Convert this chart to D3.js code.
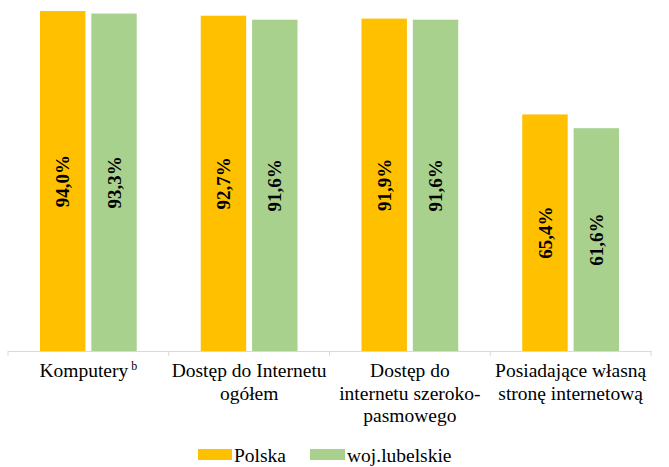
<!DOCTYPE html>
<html>
<head>
<meta charset="utf-8">
<script src="https://cdn.jsdelivr.net/npm/d3@7"></script>
<style>
  body { margin: 0; background: #fff; }
</style>
</head>
<body>
<svg id="chart" width="669" height="467"></svg>
<script>
var categories = [
  ["Komputery"],
  ["Dostęp do Internetu", "ogółem"],
  ["Dostęp do", "internetu szeroko-", "pasmowego"],
  ["Posiadające własną", "stronę internetową"]
];
var seriesNames = ["Polska", "woj.lubelskie"];
var polska = [94.0, 92.7, 91.9, 65.4];
var lubelskie = [93.3, 91.6, 91.6, 61.6];
var colors = ["#FFC000", "#A9D18E"];

var FONT = "Liberation Serif";

var svg = d3.select('#chart');
var left = 8, right = 651, baseY = 351;

var x = d3.scaleBand()
    .domain(d3.range(categories.length))
    .range([left, right]);

var x1 = d3.scaleBand()
    .domain(d3.range(seriesNames.length))
    .range([32, x.bandwidth() - 32])
    .paddingInner(0.115);

var y = d3.scaleLinear()
    .domain([0, 94])
    .range([baseY, 11]);

var rows = [];
categories.forEach(function(c, i) {
  rows.push({ cat: i, s: 0, v: polska[i] });
  rows.push({ cat: i, s: 1, v: lubelskie[i] });
});

// bars
svg.selectAll('rect.bar')
    .data(rows)
    .enter()
    .append('rect')
    .attr('class', 'bar')
    .attr('x', function(d) { return x(d.cat) + x1(d.s); })
    .attr('y', function(d) { return y(d.v); })
    .attr('width', x1.bandwidth())
    .attr('height', function(d) { return baseY - y(d.v); })
    .attr('fill', function(d) { return colors[d.s]; });

// value labels, rotated
svg.selectAll('text.val')
    .data(rows)
    .enter()
    .append('text')
    .attr('class', 'val')
    .attr('transform', function(d) {
      var cx = x(d.cat) + x1(d.s) + x1.bandwidth() / 2;
      var cy = (y(d.v) + baseY) / 2;
      return 'translate(' + cx + ',' + cy + ') rotate(-90)';
    })
    .attr('text-anchor', 'middle')
    .attr('dy', '0.35em')
    .attr('font-family', FONT)
    .attr('font-size', 19)
    .attr('font-weight', 'bold')
    .attr('fill', '#000')
    .text(function(d) { return d.v.toFixed(1).replace('.', ',') + '%'; });

// axis
var axis = d3.axisBottom(x).tickSize(0).tickFormat('');
var g = svg.append('g').attr('transform', 'translate(0,' + baseY + ')').call(axis);
g.select('.domain').attr('stroke', '#d9d9d9');
var edges = x.domain().map(function(i) { return x(i); }).concat([right]);
g.selectAll('line.edge')
    .data(edges)
    .enter()
    .append('line')
    .attr('class', 'edge')
    .attr('x1', function(d) { return d; })
    .attr('x2', function(d) { return d; })
    .attr('y1', 0)
    .attr('y2', 5)
    .attr('stroke', '#d9d9d9');

// category labels
categories.forEach(function(lines, i) {
  var t = svg.append('text')
      .attr('text-anchor', 'middle')
      .attr('font-family', FONT)
      .attr('font-size', 19.5)
      .attr('fill', '#000');
  lines.forEach(function(line, j) {
    var ts = t.append('tspan')
        .attr('x', x(i) + x.bandwidth() / 2)
        .attr('y', 377 + j * 22.5)
        .text(line);
    if (i === 0) {
      ts.append('tspan').attr('font-size', 12).attr('dy', -7).text(' b');
    }
  });
});

// legend
var legend = [
  { name: seriesNames[0], color: colors[0], x: 198, w: 34 },
  { name: seriesNames[1], color: colors[1], x: 310, w: 35 }
];
var lg = svg.selectAll('g.legend')
    .data(legend)
    .enter()
    .append('g')
    .attr('class', 'legend');
lg.append('rect')
    .attr('x', function(d) { return d.x; })
    .attr('y', 449)
    .attr('width', function(d) { return d.w; })
    .attr('height', 11)
    .attr('fill', function(d) { return d.color; });
lg.append('text')
    .attr('x', function(d) { return d.x + d.w + 2; })
    .attr('y', 462)
    .attr('font-family', FONT)
    .attr('font-size', 19.5)
    .attr('fill', '#000')
    .text(function(d) { return d.name; });
</script>
</body>
</html>
